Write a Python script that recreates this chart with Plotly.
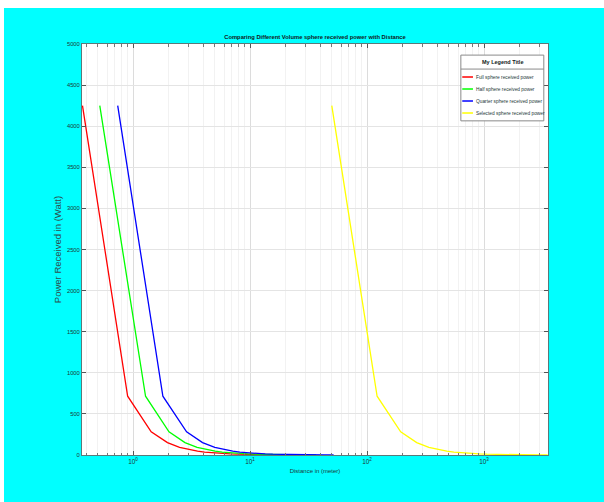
import plotly.graph_objects as go

# Received power values (Watt) (same profile for each sphere)
power = [4250, 715, 283, 151, 93.3, 63.4, 45.9, 34.7, 27.2, 18.0, 12.8, 9.5,
         7.4, 4.8, 3.4, 2.5, 1.9, 1.5, 1.24, 1.03, 0.87]

# Distances (meter) for each series
d_full = [0.37, 0.90, 1.43, 1.97, 2.50, 3.03, 3.56, 4.09, 4.63, 5.69, 6.75,
          7.82, 8.88, 11.0, 13.1, 15.3, 17.4, 19.5, 21.6, 23.8, 25.9]
d_half = [0.52, 1.28, 2.03, 2.78, 3.53, 4.28, 5.04, 5.79, 6.54, 8.05, 9.55,
          11.06, 12.56, 15.57, 18.58, 21.6, 24.6, 27.6, 30.6, 33.6, 36.6]
d_quarter = [0.74, 1.80, 2.87, 3.93, 5.00, 6.06, 7.12, 8.19, 9.25, 11.38, 13.51,
             15.64, 17.76, 22.0, 26.3, 30.5, 34.8, 39.0, 43.3, 47.5, 51.8]
d_selected = [50, 122, 194, 266, 338, 409, 481, 553, 625, 769, 913,
              1056, 1200, 1488, 1775, 2063, 2350, 2638, 2925, 3213, 3500]

names = ["Full sphere received power", "Half sphere received power",
         "Quarter sphere received power", "Selected sphere received power"]
colors = ["#FF0000", "#00FF00", "#0000FF", "#FFFF00"]
legend_title = "My Legend Title"
x_ticks = [1, 10, 100, 1000]
x_ticktext = ["10<sup>0</sup>", "10<sup>1</sup>", "10<sup>2</sup>", "10<sup>3</sup>"]
y_ticks = [0, 500, 1000, 1500, 2000, 2500, 3000, 3500, 4000, 4500, 5000]

FONT = "Liberation Sans, Arial, sans-serif"
TXT = "#1e3838"

fig = go.Figure()
for d, name, c in zip([d_full, d_half, d_quarter, d_selected], names, colors):
    fig.add_trace(go.Scatter(x=d, y=power, mode="lines", name=name,
                             line=dict(color=c, width=1.3), showlegend=False))

# Compact boxed legend (MATLAB style) built from shapes and annotations
LX0, LX1, LY0, LY1 = 0.813, 0.991, 0.813, 0.973
shapes = [
    dict(type="rect", xref="paper", yref="paper", x0=LX0, x1=LX1, y0=LY0, y1=LY1,
         line=dict(color="#8a8a8a", width=1), fillcolor="white", layer="above"),
    dict(type="line", xref="paper", yref="paper", x0=LX0, x1=LX1, y0=0.939, y1=0.939,
         line=dict(color="#8a8a8a", width=1), layer="above"),
]
annotations = [
    dict(text="<b>" + legend_title + "</b>", xref="paper", yref="paper",
         x=(LX0 + LX1) / 2, y=0.956, xanchor="center", yanchor="middle",
         showarrow=False, font=dict(family=FONT, size=5.5, color="#102020")),
]
entry_y = [0.9197, 0.8905, 0.8613, 0.8321]
for name, c, ey in zip(names, colors, entry_y):
    shapes.append(dict(type="line", xref="paper", yref="paper", x0=0.816, x1=0.839,
                       y0=ey, y1=ey, line=dict(color=c, width=1.5), layer="above"))
    annotations.append(dict(text=name, xref="paper", yref="paper", x=0.841, y=ey,
                            xanchor="left", yanchor="middle", showarrow=False,
                            font=dict(family=FONT, size=4.8, color=TXT)))

fig.update_layout(
    width=600, height=494,
    paper_bgcolor="#00FFFF", plot_bgcolor="white",
    margin=dict(l=78, r=56, t=36, b=47),
    title=dict(text="<b>Comparing Different Volume sphere received power with Distance</b>",
               x=311 / 600, xanchor="center", y=1 - 29 / 494, yanchor="middle",
               font=dict(family=FONT, size=5.8, color="#102020")),
    shapes=shapes, annotations=annotations,
    showlegend=False,
)

fig.update_xaxes(
    type="log", range=[-0.436, 3.547],
    tickvals=x_ticks, ticktext=x_ticktext,
    ticks="inside", ticklen=4, tickcolor="#555",
    showline=True, linecolor="#5a7a7a", linewidth=1, mirror="allticks",
    showgrid=True, gridcolor="#dcdcdc", gridwidth=1,
    minor=dict(dtick="D1", showgrid=True, gridcolor="#f2f2f2",
               ticks="inside", ticklen=2.5, tickcolor="#777"),
    tickfont=dict(family=FONT, size=6.5, color=TXT),
    title=dict(text="Distance in (meter)", standoff=5,
               font=dict(family=FONT, size=6, color=TXT)),
    zeroline=False,
)
fig.update_yaxes(
    range=[0, 5000], tickvals=y_ticks,
    ticks="inside", ticklen=4, tickcolor="#555",
    showline=True, linecolor="#5a7a7a", linewidth=1, mirror="allticks",
    showgrid=True, gridcolor="#e4e4e4",
    tickfont=dict(family=FONT, size=5.8, color=TXT),
    title=dict(text="Power Received in (Watt)", standoff=3,
               font=dict(family=FONT, size=9.5, color="#2e4c4c")),
    zeroline=False,
)

fig.write_html("out.html",
               post_script="document.body.style.margin='8px 0 0 4px';"
                           "document.body.style.overflow='hidden';")
